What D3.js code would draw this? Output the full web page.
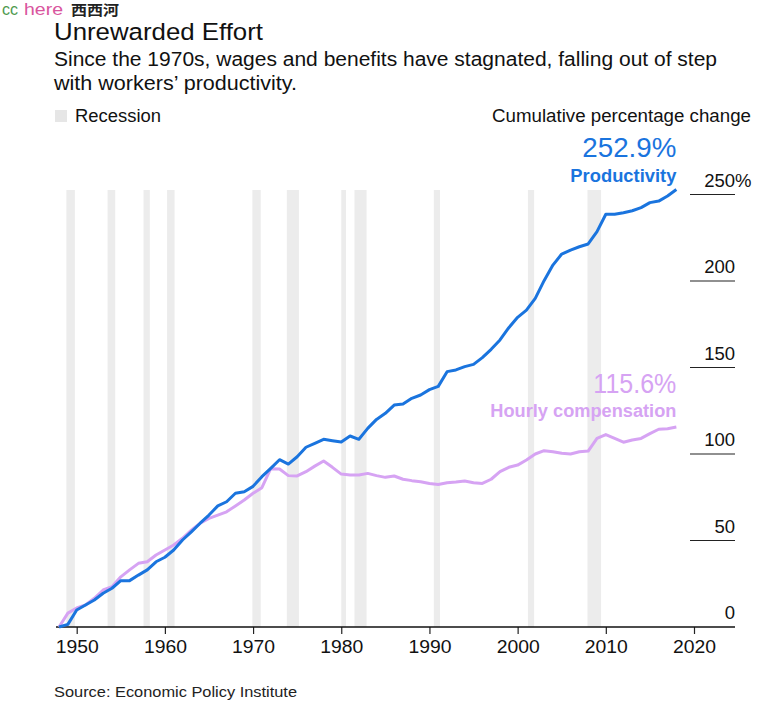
<!DOCTYPE html>
<html>
<head>
<meta charset="utf-8">
<script src="https://cdn.jsdelivr.net/npm/d3@7"></script>
<style>
  html, body { margin: 0; padding: 0; background: #fff; }
  svg { display: block; font-family: "Liberation Sans", Arial, Helvetica, sans-serif; }
</style>
</head>
<body>
<svg id="chart" width="782" height="721"></svg>
<script>
const years = d3.range(1948, 2019);
const productivity = [
  0, 1.5, 9.8, 12.7, 15.6, 19.5, 22.4, 26.8, 26.8, 30,
  33, 37.7, 40.3, 44.5, 50.3, 55, 60, 64.7, 70, 72.4,
  77.3, 78.2, 81.3, 86.9, 91.7, 96.7, 94.2, 98.4, 103.9, 106.2,
  108.5, 107.7, 106.9, 110.4, 108.5, 114.8, 120, 123.5, 128.3, 128.9,
  132.2, 134.1, 137.2, 139.1, 147.6, 148.6, 150.5, 151.8, 155.7, 160.5,
  165.9, 173, 179, 183.2, 190, 200.2, 209.2, 215.6, 217.9, 219.8,
  221.4, 228.5, 238.6, 238.6, 239.5, 240.6, 242.4, 245.3, 246.2, 249.1,
  252.9
];
const compensation = [
  0, 8, 11, 12.7, 16.6, 21.4, 23.3, 29, 33, 36.8,
  37.7, 41.6, 44.5, 47.4, 51.3, 56, 60, 62.8, 64.7, 66.6,
  70, 73.4, 77.3, 80.5, 91.5, 91.3, 87.5, 87.3, 89.8, 93,
  96, 92.3, 88.4, 87.9, 87.9, 88.8, 87.5, 86.5, 87.3, 85.4,
  84.6, 84, 83, 82.4, 83.4, 83.8, 84.4, 83.4, 83, 85.4,
  89.8, 92.3, 93.6, 96.5, 100, 101.9, 101.3, 100.4, 100, 101.3,
  101.7, 109, 111.2, 109, 106.8, 108.1, 109, 111.8, 114.3, 114.6,
  115.6
];
const recessionStart = [1948.83, 1953.5, 1957.58, 1960.25, 1969.92, 1973.83, 1980.0, 1981.5, 1990.5, 2001.17, 2007.92];
const recessionEnd   = [1949.79, 1954.37, 1958.29, 1961.1, 1970.87, 1975.2, 1980.54, 1982.87, 1991.2, 2001.87, 2009.46];
const xTicks = [1950, 1960, 1970, 1980, 1990, 2000, 2010, 2020];
const yTicks = [0, 50, 100, 150, 200, 250];
const yTickLabels = ["0", "50", "100", "150", "200", "250%"];

const BLUE = "#1a74de";
const PURPLE = "#d6a3f3";

const svg = d3.select("#chart");

const x = d3.scaleLinear().domain([1950, 2020]).range([76.7, 694]);
const y = d3.scaleLinear().domain([0, 250]).range([627, 194.5]);

function fit(sel, len) {
  sel.attr("textLength", len).attr("lengthAdjust", "spacingAndGlyphs");
  return sel;
}

// header
svg.append("text").attr("x", 2).attr("y", 15).attr("fill", "#4e9a4e").style("font-size", "17px").call(fit, 16).text("cc");
svg.append("text").attr("x", 24).attr("y", 15).attr("fill", "#d9559e").style("font-size", "17px").call(fit, 39).text("here");
svg.append("text").attr("x", 71).attr("y", 14.5).attr("fill", "#222")
  .style("font-family", "'Noto Sans CJK SC', sans-serif").style("font-weight", "bold").style("font-size", "14px")
  .call(fit, 48)
  .text("西西河");

fit(svg.append("text").attr("x", 54).attr("y", 39.5).attr("fill", "#111").style("font-size", "24.5px"), 209).text("Unrewarded Effort");
fit(svg.append("text").attr("x", 54).attr("y", 66).attr("fill", "#111").style("font-size", "19.5px"), 663).text("Since the 1970s, wages and benefits have stagnated, falling out of step");
fit(svg.append("text").attr("x", 54).attr("y", 90).attr("fill", "#111").style("font-size", "19.5px"), 243).text("with workers\u2019 productivity.");

// legend
svg.append("rect").attr("x", 55).attr("y", 110).attr("width", 12).attr("height", 12).attr("fill", "#e6e6e6");
fit(svg.append("text").attr("x", 75).attr("y", 122).attr("fill", "#111").style("font-size", "17.5px"), 86).text("Recession");
fit(svg.append("text").attr("x", 751).attr("y", 122).attr("text-anchor", "end").attr("fill", "#111").style("font-size", "17.5px"), 259).text("Cumulative percentage change");

// recession bands
svg.append("g").selectAll("rect").data(recessionStart).join("rect")
  .attr("x", (d) => x(d))
  .attr("width", (d, i) => x(recessionEnd[i]) - x(d))
  .attr("y", 190)
  .attr("height", y(0) - 190)
  .attr("fill", "#ececec");

// y gridlines and labels
const yg = svg.append("g");
yg.selectAll("line").data(yTicks.filter(d => d > 0)).join("line")
  .attr("x1", 690).attr("x2", 735)
  .attr("y1", d => y(d)).attr("y2", d => y(d))
  .attr("stroke", "#222").attr("stroke-width", 1.2);
yg.selectAll("text").data(yTicks).join("text")
  .attr("y", d => y(d) - 8)
  .attr("fill", "#111")
  .style("font-size", "18.5px")
  .attr("text-anchor", "start")
  .each(function(d, i) {
    const t = d3.select(this);
    t.text(String(d));
    const w = this.getComputedTextLength();
    t.attr("x", 735 - w).text(yTickLabels[i]);
  });

// x axis
const xAxis = d3.axisBottom(x).tickValues(xTicks).tickFormat(d3.format("d")).tickSize(7).tickPadding(6);
const gx = svg.append("g").attr("transform", `translate(0,${y(0)})`).call(xAxis);
gx.select(".domain").remove();
gx.selectAll(".tick line").attr("stroke", "#222").attr("stroke-width", 1.2);
gx.selectAll(".tick text").attr("fill", "#111").style("font-size", "18px")
  .style("font-family", "'Liberation Sans', Arial, sans-serif")
  .attr("textLength", 43).attr("lengthAdjust", "spacingAndGlyphs");
svg.append("line").attr("x1", 56).attr("x2", 735).attr("y1", y(0)).attr("y2", y(0)).attr("stroke", "#111").attr("stroke-width", 1.5);

// lines
const line = d3.line().x((d, i) => x(years[i])).y(d => y(d)).curve(d3.curveLinear);
svg.append("path").datum(compensation).attr("d", line).attr("fill", "none").attr("stroke", PURPLE).attr("stroke-width", 3).attr("stroke-linejoin", "round");
svg.append("path").datum(productivity).attr("d", line).attr("fill", "none").attr("stroke", BLUE).attr("stroke-width", 3).attr("stroke-linejoin", "round");

// end labels
const lastX = x(years[years.length - 1]);
fit(svg.append("text").attr("x", lastX).attr("y", 157).attr("text-anchor", "end").attr("fill", BLUE).style("font-size", "27px"), 94).text(productivity[productivity.length - 1].toFixed(1) + "%");
fit(svg.append("text").attr("x", lastX).attr("y", 182).attr("text-anchor", "end").attr("fill", BLUE).style("font-size", "18px").style("font-weight", "bold"), 106).text("Productivity");
fit(svg.append("text").attr("x", lastX).attr("y", 393).attr("text-anchor", "end").attr("fill", PURPLE).style("font-size", "27px"), 83).text(compensation[compensation.length - 1].toFixed(1) + "%");
fit(svg.append("text").attr("x", lastX).attr("y", 417).attr("text-anchor", "end").attr("fill", PURPLE).style("font-size", "18px").style("font-weight", "bold"), 186).text("Hourly compensation");

// source
fit(svg.append("text").attr("x", 54).attr("y", 697).attr("fill", "#222").style("font-size", "15.5px"), 243).text("Source: Economic Policy Institute");
</script>
</body>
</html>
